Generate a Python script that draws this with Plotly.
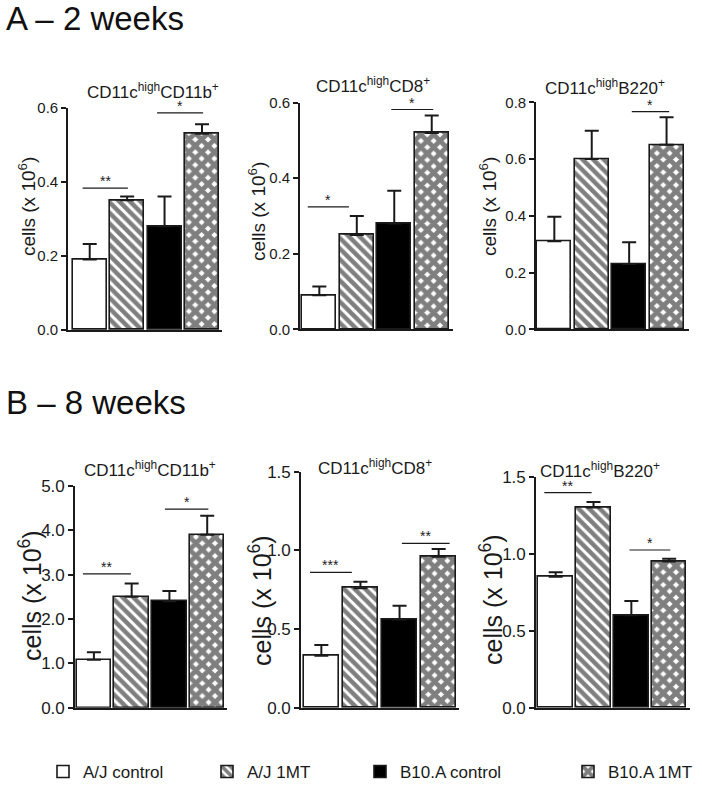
import plotly.graph_objects as go

# ---------------- data ----------------
groups = ["A/J control", "A/J 1MT", "B10.A control", "B10.A 1MT"]
panel_titles = [
    "CD11c<sup>high</sup>CD11b<sup>+</sup>",
    "CD11c<sup>high</sup>CD8<sup>+</sup>",
    "CD11c<sup>high</sup>B220<sup>+</sup>",
    "CD11c<sup>high</sup>CD11b<sup>+</sup>",
    "CD11c<sup>high</sup>CD8<sup>+</sup>",
    "CD11c<sup>high</sup>B220<sup>+</sup>",
]
# means (cells x 10^6)
means_A1 = [0.19, 0.35, 0.28, 0.53]
means_A2 = [0.09, 0.25, 0.28, 0.52]
means_A3 = [0.31, 0.60, 0.23, 0.65]
means_B1 = [1.08, 2.50, 2.40, 3.90]
means_B2 = [0.33, 0.76, 0.56, 0.96]
means_B3 = [0.85, 1.30, 0.60, 0.95]
# upper error (SEM)
err_A1 = [0.042, 0.010, 0.080, 0.025]
err_A2 = [0.023, 0.050, 0.087, 0.046]
err_A3 = [0.087, 0.100, 0.077, 0.097]
err_B1 = [0.17, 0.30, 0.23, 0.43]
err_B2 = [0.068, 0.040, 0.088, 0.048]
err_B3 = [0.029, 0.035, 0.093, 0.018]
# significance brackets: (x start, x end, y level, label) in category units
sig_A1 = [(-0.19, 1.02, 0.383, "**"), (1.80, 3.03, 0.586, "*")]
sig_A2 = [(-0.31, 0.79, 0.324, "*"), (1.92, 3.04, 0.582, "*")]
sig_A3 = [(2.07, 3.07, 0.767, "*")]
sig_B1 = [(-0.29, 0.98, 3.02, "**"), (1.88, 3.03, 4.48, "*")]
sig_B2 = [(-0.29, 0.78, 0.86, "***"), (2.06, 3.28, 1.044, "**")]
sig_B3 = [(-0.30, 0.95, 1.396, "**"), (1.95, 3.03, 1.024, "*")]
# y axis maxima and tick steps
ymax = [0.6, 0.6, 0.8, 5.0, 1.5, 1.5]
ydtick = [0.2, 0.2, 0.2, 1.0, 0.5, 0.5]
section_labels = ["A \u2013 2 weeks", "B \u2013 8 weeks"]

means = [means_A1, means_A2, means_A3, means_B1, means_B2, means_B3]
errs = [err_A1, err_A2, err_A3, err_B1, err_B2, err_B3]
sigs = [sig_A1, sig_A2, sig_A3, sig_B1, sig_B2, sig_B3]

# ---------------- layout geometry (pixels) ----------------
W, H = 702, 787
# (axis left x, axis right x, y of zero, y of max, range left, range right)
geom = [
    (68, 222, 330.0, 107.7, -0.58, 3.535),
    (300, 452.7, 329.3, 102.7, -0.516, 3.56),
    (536, 689, 329.3, 102.3, -0.49, 3.60),
    (75, 226.7, 707.7, 486.0, -0.50, 3.516),
    (301, 459, 707.7, 471.7, -0.52, 3.52),
    (536, 690, 707.7, 476.7, -0.52, 3.55),
]
title_pos = [(153, 91), (373, 85), (605, 87), (150, 469), (375, 467), (600, 470)]
ylab_pos = [(27, 207), (257, 212), (488, 207), (30, 596), (260, 601), (491, 600)]

FONT = "Liberation Sans, Arial, sans-serif"
INK = "#1a1a1a"

styles = [
    dict(color="white"),
    dict(color="white", pattern=dict(shape="\\", fgcolor="black", bgcolor="white",
                                     size=7.5, solidity=0.6)),
    dict(color="black"),
    dict(color="white", pattern=dict(shape="x", fgcolor="black", bgcolor="white",
                                     size=9, solidity=0.78)),
]

fig = go.Figure()
legend_names = ["legend", "legend2", "legend3", "legend4"]

def axn(prefix, k):
    return prefix if k == 1 else f"{prefix}{k}"

annotations = []
shapes = []
for p in range(6):
    k = p + 1
    xa, ya = axn("x", k), axn("y", k)
    for g in range(4):
        mk = dict(color=styles[g]["color"], line=dict(color=INK, width=1.6))
        if "pattern" in styles[g]:
            mk["pattern"] = styles[g]["pattern"]
        fig.add_trace(go.Bar(
            x=[g], y=[means[p][g]], width=0.91,
            marker=mk, name=groups[g],
            error_y=dict(type="data", symmetric=False, array=[errs[p][g]],
                         arrayminus=[0], color=INK, thickness=2, width=7),
            xaxis=xa, yaxis=ya,
            showlegend=(p == 0), legend=legend_names[g],
        ))
    x0, x1, yz, ym, r0, r1 = geom[p]
    big = p >= 3
    fig.update_layout(**{
        axn("xaxis", k): dict(domain=[x0 / W, x1 / W], range=[r0, r1], anchor=ya,
                              showline=True, linecolor=INK, linewidth=1.6,
                              showticklabels=False, ticks="", showgrid=False,
                              zeroline=False, fixedrange=True),
        axn("yaxis", k): dict(domain=[1 - yz / H, 1 - ym / H], range=[0, ymax[p]],
                              anchor=xa, dtick=ydtick[p], tick0=0, tickformat=".1f",
                              showline=True, linecolor=INK, linewidth=1.6,
                              ticks="outside", ticklen=5, tickwidth=1.6, tickcolor=INK,
                              tickfont=dict(family=FONT, size=17 if big else 15, color=INK),
                              showgrid=False, zeroline=False, fixedrange=True),
    })
    for (s0, s1, yl, lab) in sigs[p]:
        shapes.append(dict(type="line", xref=xa, yref=ya, x0=s0, x1=s1, y0=yl, y1=yl,
                           line=dict(color=INK, width=1.2)))
        annotations.append(dict(text=lab, xref=xa, yref=ya, x=(s0 + s1) / 2, y=yl,
                                yanchor="bottom", showarrow=False, yshift=-3,
                                font=dict(family=FONT, size=14, color=INK)))
    tx, ty = title_pos[p]
    annotations.append(dict(text=panel_titles[p], xref="paper", yref="paper",
                            x=tx / W, y=1 - ty / H, xanchor="center", yanchor="middle",
                            showarrow=False, font=dict(family=FONT, size=17, color=INK)))
    lx, ly = ylab_pos[p]
    annotations.append(dict(text="cells (x 10<sup>6</sup>)", xref="paper", yref="paper",
                            x=lx / W, y=1 - ly / H, xanchor="center", yanchor="middle",
                            textangle=-90, showarrow=False,
                            font=dict(family=FONT, size=25 if big else 19, color=INK)))

for lab, yc in zip(section_labels, [19, 402]):
    annotations.append(dict(text=lab, xref="paper", yref="paper", x=4 / W, y=1 - yc / H,
                            xanchor="left", yanchor="middle", showarrow=False,
                            font=dict(family=FONT, size=33, color="#111")))

legend_text_x = [87, 251, 404, 612]
leg_layout = {}
for g, name in enumerate(legend_names):
    leg_layout[name] = dict(x=(legend_text_x[g] - 44) / W, y=1 - 772 / H,
                            xanchor="left", yanchor="middle", orientation="h",
                            bgcolor="rgba(0,0,0,0)", borderwidth=0,
                            font=dict(family=FONT, size=17, color=INK))

fig.update_layout(
    width=W, height=H, margin=dict(l=0, r=0, t=0, b=0, autoexpand=False),
    paper_bgcolor="white", plot_bgcolor="white",
    barmode="overlay", bargap=0,
    annotations=annotations, shapes=shapes,
    **leg_layout,
)

fig.write_html("out.html", config={"displayModeBar": False},
               post_script="document.body.style.margin='0';document.body.style.overflow='hidden';")
